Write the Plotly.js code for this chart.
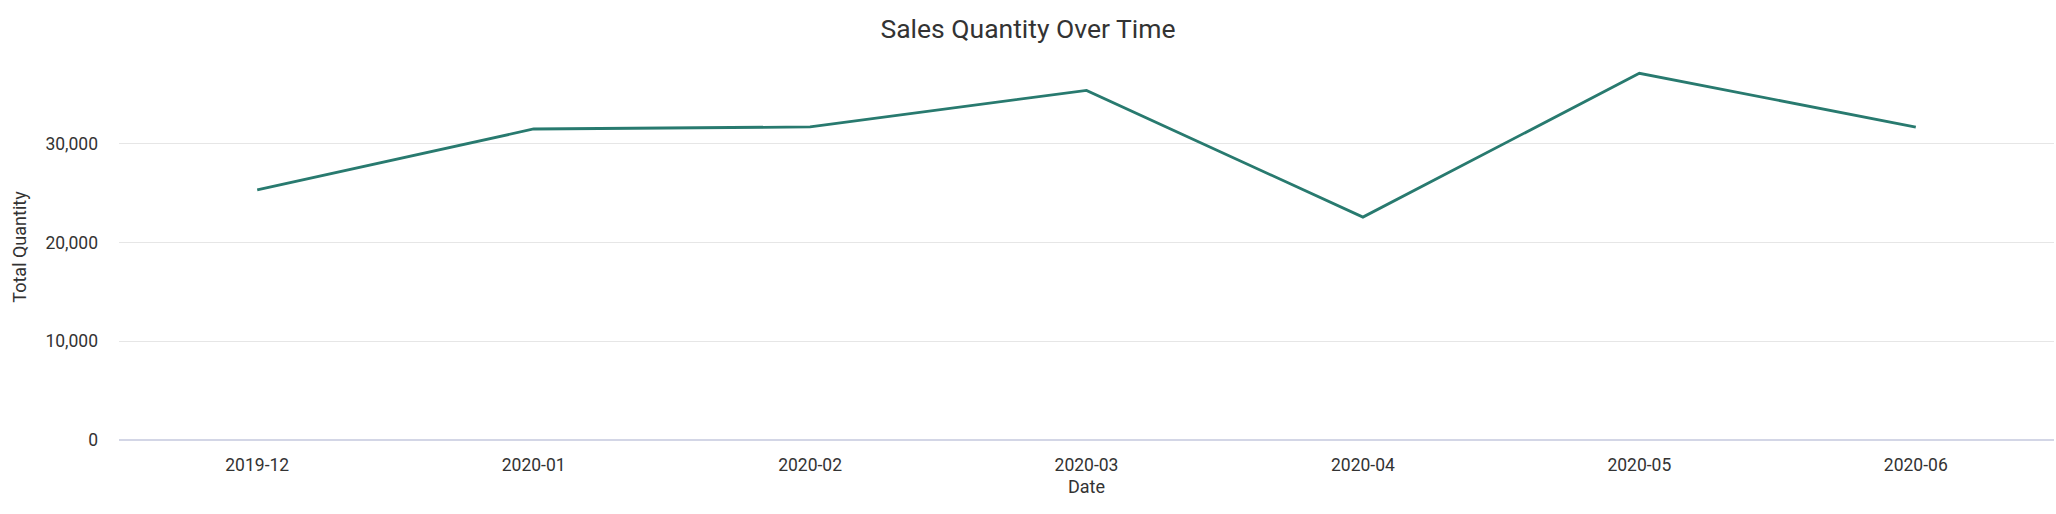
<!DOCTYPE html>
<html>
<head>
<meta charset="utf-8">
<script src="https://cdn.plot.ly/plotly-3.0.1.min.js"></script>
<style>html,body{margin:0;padding:0;background:#fff;}#chart{width:2056px;height:514px;}</style>
</head>
<body>
<div id="chart"></div>
<script>
const months = ["2019-12", "2020-01", "2020-02", "2020-03", "2020-04", "2020-05", "2020-06"];
const totalQuantity = [25330, 31490, 31700, 35400, 22570, 37130, 31690];

const trace = {
  x: months,
  y: totalQuantity,
  type: "scatter",
  mode: "lines",
  line: { color: "#287a6f", width: 2.8 },
  hoverinfo: "x+y"
};

const layout = {
  width: 2056,
  height: 514,
  paper_bgcolor: "#ffffff",
  plot_bgcolor: "#ffffff",
  font: { family: "Roboto, sans-serif", size: 18, color: "#333333" },
  title: {
    text: "Sales Quantity Over Time",
    font: { family: "Roboto, sans-serif", size: 26.5, color: "#333333" },
    x: 0.5, xref: "container", xanchor: "center",
    y: 0.945, yref: "container", yanchor: "middle"
  },
  margin: { l: 119, r: 2, t: 54, b: 74 },
  showlegend: false,
  xaxis: {
    type: "category",
    range: [-0.5, months.length - 0.5],
    title: { text: "Date", font: { size: 18, color: "#333333" }, standoff: 6 },
    showgrid: false,
    showline: false,
    zeroline: false,
    ticks: "",
    ticklabelstandoff: 12,
    tickfont: { size: 17.5 }
  },
  yaxis: {
    title: { text: "Total Quantity", font: { size: 18, color: "#333333" }, standoff: 14 },
    rangemode: "tozero",
    tickformat: ",d",
    dtick: 10000,
    showgrid: true,
    gridcolor: "#e6e6e6",
    gridwidth: 1,
    zeroline: true,
    zerolinecolor: "#d3d6e6",
    zerolinewidth: 1.5,
    showline: false,
    ticks: "",
    ticklabelstandoff: 20,
    tickfont: { size: 17.5 }
  }
};

Plotly.newPlot("chart", [trace], layout, { displayModeBar: false, responsive: false });
</script>
</body>
</html>
